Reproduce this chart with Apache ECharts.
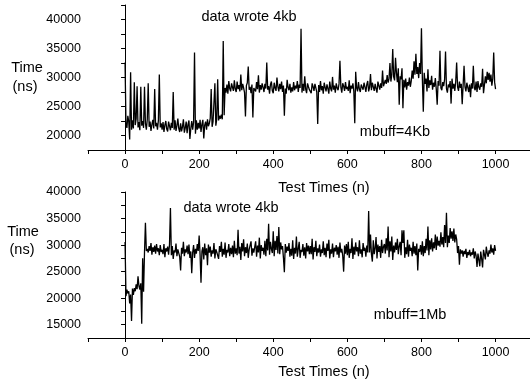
<!DOCTYPE html>
<html>
<head>
<meta charset="utf-8">
<script src="https://cdn.jsdelivr.net/npm/echarts@6/dist/echarts.min.js"></script>
<style>
  html, body { margin: 0; padding: 0; background: #fff; }
  #chart { width: 530px; height: 383px; }
</style>
</head>
<body>
<div id="chart"></div>
<script>
// spacing between the test runs
var step = 2.5;

// mbuff = 4Kb, time in ns (one row = 50 test runs)
var time4Kb = [
  32600, 22000, 21300, 23400, 22400, 19300, 30900, 21000, 22600, 21200, 29200, 21800, 22900, 28500, 21400, 22300, 20900, 28400, 21700, 22500,
  21300, 28400, 22100, 21000, 22800, 29000, 21500, 22400, 20800, 21900, 22700, 21200, 28000, 21600, 22200, 21000, 22600, 30500, 21400, 22100,
  21000, 22300, 20600, 21800, 22500, 21100, 20700, 22400, 21600, 20900, 22200, 21300, 27500, 21000, 22600, 20800, 21700, 22900, 21200, 20600,
  22100, 20700, 21500, 22800, 20500, 21300, 22400, 20400, 21900, 22600, 19400, 21200, 22500, 21000, 22300, 34300, 20300, 22600, 21000, 22200,
  21200, 22700, 20600, 21900, 22700, 19500, 21800, 22400, 21000, 22800, 21600, 22100, 23000, 28000, 21500, 22400, 22200, 29000, 21700, 22800,
  29700, 22600, 23400, 22900, 23600, 22800, 36300, 23500, 28200, 27400, 28800, 27200, 29400, 28100, 27600, 29000, 28300, 27700, 29500, 28000,
  27500, 29300, 28000, 28700, 27600, 30500, 27800, 28900, 28200, 27400, 23300, 28600, 29100, 31900, 27900, 28400, 27300, 28800, 23100, 28200,
  28400, 27600, 29200, 28000, 30400, 27400, 28700, 27900, 29000, 28300, 27500, 28900, 28100, 32600, 27900, 28500, 27200, 28800, 29300, 27700,
  27300, 29100, 28200, 27700, 30000, 28400, 27600, 28900, 28000, 29300, 27500, 28600, 23400, 28100, 27200, 29600, 28300, 27800, 28900, 27400,
  28300, 27600, 29200, 27800, 28600, 28100, 29400, 27500, 28800, 28200, 38400, 27400, 28900, 27700, 30200, 28000, 27300, 29000, 28400, 27900,
  28000, 27300, 29000, 28400, 27700, 28900, 28200, 27500, 22000, 28700, 27500, 29400, 27800, 28500, 27200, 29100, 28300, 27600, 28800, 28100,
  27200, 29300, 28100, 27600, 30100, 27900, 28600, 27400, 29000, 28200, 27800, 28900, 32900, 28300, 27400, 29000, 28500, 27700, 29200, 28000,
  28400, 27700, 29500, 27300, 28600, 28100, 29000, 27600, 22100, 31000, 28200, 27600, 29200, 28000, 27500, 28800, 28300, 27900, 29100, 28400,
  27500, 28800, 29400, 27600, 28300, 30600, 27800, 29100, 28400, 27700, 28900, 28100, 27400, 29300, 28600, 27900, 29000, 28200, 31200, 28500,
  28700, 29600, 28900, 30400, 29100, 29800, 32500, 29300, 30500, 34900, 30100, 29500, 33400, 30800, 29200, 31600, 25300, 30200, 29700, 31600,
  24700, 29600, 28300, 29800, 27900, 29200, 28600, 30000, 28400, 29400, 31200, 29800, 32800, 30500, 34100, 30600, 31800, 29900, 32500, 30600,
  38500, 29700, 24100, 30800, 28900, 29800, 27600, 31400, 28200, 29500, 28700, 30300, 27900, 29100, 28400, 29900, 28000, 25300, 29400, 28600,
  34600, 28200, 27800, 29200, 28500, 29700, 34500, 28100, 27400, 28800, 28300, 29400, 25500, 29800, 28100, 28900, 27700, 29300, 32600, 28400,
  27700, 29300, 28200, 28900, 25400, 28700, 32000, 28400, 27600, 29100, 28300, 27500, 28800, 26600, 29000, 28100, 32000, 28200, 27800, 29300,
  27500, 29400, 28300, 27900, 29000, 28400, 31500, 27300, 28700, 30200, 29000, 31000, 29600, 30800, 29300, 30500, 28600, 29800, 34300, 29200,
  28000
];

// mbuff = 1Mb, time in ns (one row = 50 test runs)
var time1Mb = [
  30600, 20400, 21600, 20900, 21300, 19000, 20700, 15700, 21800, 20600, 21900, 21300, 22600, 21700, 24100, 22300, 21600, 22800, 15200, 27500,
  21200, 28600, 34200, 28900, 29300, 28600, 29800, 28900, 30400, 28200, 29600, 28700, 29900, 28400, 30200, 28800, 29400, 28100, 30000, 28700,
  29100, 28300, 30200, 27700, 29400, 28800, 29700, 28200, 30100, 37000, 28100, 29800, 27400, 29000, 28600, 30300, 27900, 29200, 28500, 27800,
  25200, 29500, 28400, 30600, 27900, 29200, 28600, 29900, 28300, 30100, 27600, 28800, 24700, 28600, 30000, 27600, 29300, 28400, 30200, 28900,
  31800, 28200, 22900, 28800, 29600, 27300, 30300, 28100, 29400, 26200, 30100, 28600, 29700, 27800, 29000, 28400, 30400, 27500, 29200, 28700,
  28500, 27400, 29800, 28700, 30600, 27800, 29300, 28200, 30500, 27600, 29100, 28600, 30200, 27900, 29500, 28300, 29900, 27700, 30800, 28400,
  29400, 28100, 32900, 28400, 29700, 27200, 30400, 28800, 31100, 27900, 29600, 28500, 30300, 27600, 29200, 28900, 30700, 28000, 29400, 28600,
  28300, 30700, 27800, 29900, 28600, 31400, 27500, 30000, 28900, 29500, 28200, 30800, 27900, 31200, 29000, 34000, 28200, 30600, 29300, 28500,
  32600, 27900, 30800, 29100, 31700, 28400, 33400, 28300, 30500, 29200, 29800, 27600, 24900, 30200, 28600, 29700, 28900, 30400, 27800, 29300,
  28000, 30900, 27400, 29500, 28400, 31600, 27800, 29300, 30600, 27600, 29100, 28700, 30200, 28000, 29600, 27500, 30400, 28800, 29900, 28300,
  29800, 28300, 31200, 27300, 29600, 28700, 30800, 27900, 29400, 28600, 30100, 27800, 29200, 28500, 30700, 28100, 29500, 27700, 30300, 28900,
  31000, 27500, 29200, 28400, 30300, 27700, 29500, 28800, 30000, 28200, 29700, 27600, 30500, 28600, 29300, 28000, 25000, 29900, 28400, 30200,
  28100, 30600, 27600, 29300, 28500, 31300, 27400, 29700, 28200, 30500, 28800, 29600, 27900, 30900, 28400, 29200, 27700, 30400, 28900, 29500,
  27800, 29900, 28600, 36400, 28600, 32000, 28300, 26900, 30900, 28300, 29400, 31500, 27500, 30100, 28700, 29800, 27600, 31000, 28500, 29700,
  30200, 28400, 31300, 29000, 33500, 27700, 30700, 28800, 31600, 27200, 29900, 28600, 30500, 29100, 31200, 28300, 29800, 30600, 28100, 32800,
  30400, 32800, 27600, 29600, 28300, 31000, 27800, 30100, 28900, 29500, 27900, 30600, 28400, 29800, 28100, 30300, 25200, 29300, 28700, 30000,
  28200, 30700, 27900, 29800, 28500, 31200, 29000, 33500, 28100, 30900, 29200, 31300, 28800, 30500, 29400, 32000, 29100, 31600, 29900, 30800,
  29700, 32400, 30100, 31500, 29600, 33800, 30400, 36100, 29600, 31800, 30400, 33200, 31200, 32600, 30800, 33100, 30500, 32000, 31100, 28500,
  29800, 26300, 29200, 28400, 29000, 27800, 28900, 28300, 29300, 27600, 28700, 28100, 29100, 27900, 28600, 28200, 29400, 27500, 28800, 28000,
  25900, 28400, 27200, 26000, 28800, 27400, 25800, 29100, 28200, 27300, 29700, 28500, 27800, 29000, 28400, 30100, 28600, 29400, 28200, 30000,
  28900
];

var xLabels = [0, 200, 400, 600, 800, 1000];

function pairs(values) {
  var out = [];
  for (var i = 0; i < values.length; i++) {
    out.push([i * step, values[i]]);
  }
  return out;
}

var font = "Liberation Sans, Arial, sans-serif";

function xAxisFor(gridIndex) {
  return {
    type: "value",
    gridIndex: gridIndex,
    min: -100,
    max: 1100,
    interval: 100,
    axisLine: { show: true, onZero: false, lineStyle: { color: "#000", width: 1 } },
    axisTick: { show: true, inside: false, length: 4, lineStyle: { color: "#000" } },
    axisLabel: {
      color: "#000",
      fontFamily: font,
      fontSize: 12.5,
      margin: 8,
      formatter: function (v) {
        return xLabels.indexOf(v) >= 0 ? String(v) : "";
      }
    },
    splitLine: { show: false }
  };
}

function yAxisFor(gridIndex, min, max) {
  return {
    type: "value",
    gridIndex: gridIndex,
    min: min,
    max: max,
    interval: 2500,
    axisLine: { show: true, lineStyle: { color: "#000", width: 1 } },
    axisTick: { show: true, inside: false, length: 4, lineStyle: { color: "#000" } },
    axisLabel: {
      color: "#000",
      fontFamily: font,
      fontSize: 12.5,
      margin: 7,
      formatter: function (v) {
        return v % 5000 === 0 ? String(v) : "";
      }
    },
    splitLine: { show: false }
  };
}

function label(text, x, y) {
  return {
    type: "text",
    x: x,
    y: y,
    style: {
      text: text,
      fill: "#000",
      font: "14.5px " + font,
      textAlign: "center",
      textVerticalAlign: "middle"
    }
  };
}

var chart = echarts.init(document.getElementById("chart"), null, { renderer: "canvas" });
chart.setOption({
  animation: false,
  backgroundColor: "#fff",
  grid: [
    { left: 88, top: 5, width: 444.6, height: 145, outerBoundsMode: "none" },
    { left: 88, top: 192, width: 444.6, height: 146, outerBoundsMode: "none" }
  ],
  xAxis: [xAxisFor(0), xAxisFor(1)],
  yAxis: [yAxisFor(0, 17500, 42500), yAxisFor(1, 12500, 40000)],
  series: [
    {
      name: "mbuff=4Kb",
      type: "line",
      xAxisIndex: 0,
      yAxisIndex: 0,
      showSymbol: false,
      symbol: "none",
      lineStyle: { color: "#000", width: 1.3 },
      data: pairs(time4Kb)
    },
    {
      name: "mbuff=1Mb",
      type: "line",
      xAxisIndex: 1,
      yAxisIndex: 1,
      showSymbol: false,
      symbol: "none",
      lineStyle: { color: "#000", width: 1.3 },
      data: pairs(time1Mb)
    }
  ],
  graphic: [
    label("data wrote 4kb", 249, 17),
    label("mbuff=4Kb", 395, 132),
    label("Test Times (n)", 324, 188),
    label("Time", 27, 68),
    label("(ns)", 25, 87),
    label("data wrote 4kb", 231, 208),
    label("mbuff=1Mb", 410, 315),
    label("Test Times (n)", 324, 372),
    label("Time", 23, 232),
    label("(ns)", 22, 250)
  ]
});
</script>
</body>
</html>
